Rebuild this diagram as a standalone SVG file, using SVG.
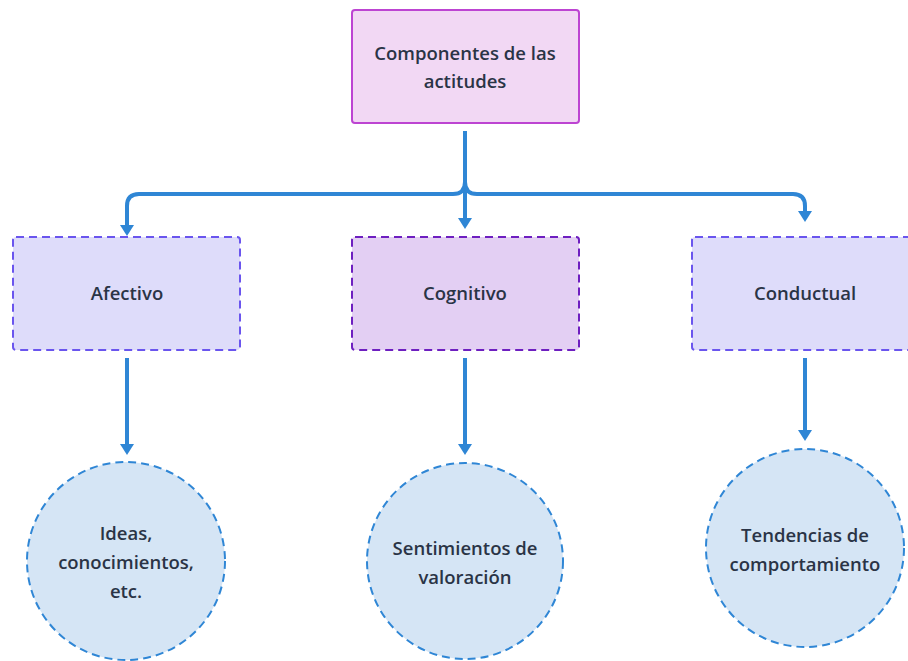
<svg xmlns="http://www.w3.org/2000/svg" width="908" height="661" viewBox="0 0 908 661">
<style>
text{font-family:"Open Sans","Liberation Sans",sans-serif;font-size:18.5px;font-weight:600;fill:#2a3446;text-anchor:middle}
.edge{fill:none;stroke:#2f86d5;stroke-width:4;stroke-linejoin:round}
.head{fill:#2f86d5}
.main{fill:#f2d8f4;stroke:#bd44d2;stroke-width:2}
.sub{fill:#dedcfa;stroke:#6a55ee;stroke-width:2;stroke-dasharray:8 5}
.sel{fill:#e3cff3;stroke:#6e1fc0;stroke-width:2;stroke-dasharray:8 5}
.leaf{fill:#d5e5f5;stroke:#2f86d5;stroke-width:2;stroke-dasharray:8 5}
</style>
<rect width="908" height="661" fill="#ffffff"/>
<g id="connectors">
<path class="edge" d="M465,131 V220"/>
<path class="edge" d="M465,131 V182 Q465,194 453,194 H139 Q127,194 127,206 V227"/>
<path class="edge" d="M465,131 V182 Q465,194 477,194 H793 Q805,194 805,206 V213"/>
<path class="edge" d="M127,358 V446"/>
<path class="edge" d="M465,358 V446"/>
<path class="edge" d="M805,358 V432"/>
<polygon class="head" points="458,218 472,218 465,229"/>
<polygon class="head" points="120,225 134,225 127,236"/>
<polygon class="head" points="798,211 812,211 805,222"/>
<polygon class="head" points="120,444 134,444 127,455"/>
<polygon class="head" points="458,444 472,444 465,455"/>
<polygon class="head" points="798,430 812,430 805,441"/>
</g>
<g id="n-componentes">
<rect class="main" x="352" y="10" width="227" height="113" rx="3"/>
<text x="465" y="60">Componentes de las</text>
<text x="465" y="88">actitudes</text>
</g>
<g id="n-afectivo">
<rect class="sub" x="13" y="237" width="227" height="113" rx="3"/>
<text x="127" y="300">Afectivo</text>
</g>
<g id="n-cognitivo">
<rect class="sel" x="352" y="237" width="227" height="113" rx="3"/>
<text x="465" y="300">Cognitivo</text>
</g>
<g id="n-conductual">
<rect class="sub" x="692" y="237" width="227" height="113" rx="3"/>
<text x="805" y="300">Conductual</text>
</g>
<g id="n-ideas">
<circle class="leaf" cx="126" cy="561" r="99"/>
<text x="126" y="540">Ideas,</text>
<text x="126" y="569">conocimientos,</text>
<text x="126" y="598">etc.</text>
</g>
<g id="n-sentimientos">
<circle class="leaf" cx="465" cy="561" r="98"/>
<text x="465" y="555">Sentimientos de</text>
<text x="465" y="584">valoración</text>
</g>
<g id="n-tendencias">
<circle class="leaf" cx="805" cy="548" r="99"/>
<text x="805" y="542">Tendencias de</text>
<text x="805" y="571">comportamiento</text>
</g>
</svg>
